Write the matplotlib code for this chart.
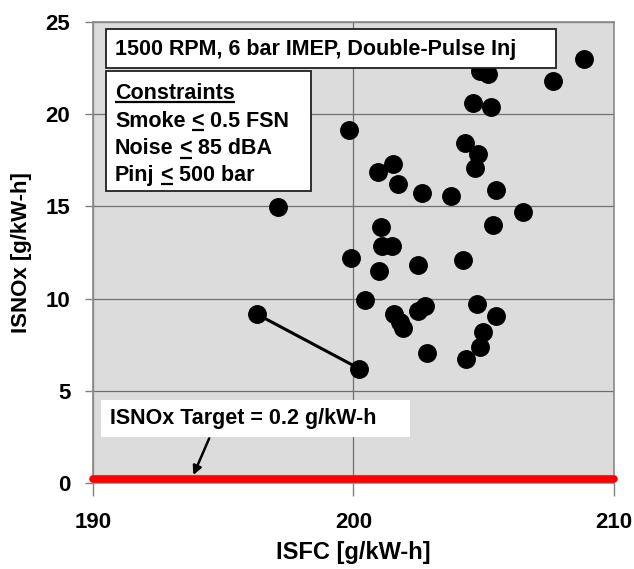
import matplotlib
matplotlib.use("Agg")
import matplotlib.pyplot as plt
from matplotlib.patches import Rectangle

plt.rcParams['font.family'] = ['Liberation Sans', 'DejaVu Sans']
plt.rcParams['font.weight'] = 'bold'

# ---- data ----
isfc = [208.86, 207.65, 204.86, 205.18, 204.60, 205.28, 199.83, 204.29, 204.77, 204.67,
        201.53, 200.96, 201.70, 202.65, 203.74, 205.46, 197.12, 206.52, 201.05, 205.37,
        201.11, 201.50, 199.90, 202.49, 204.20, 201.00, 200.45, 196.32, 201.57, 201.79,
        201.90, 202.49, 202.75, 204.76, 205.48, 204.97, 204.84, 204.32, 202.82, 200.23]
isnox = [23.01, 21.78, 22.32, 22.18, 20.59, 20.38, 19.17, 18.45, 17.82, 17.10,
         17.28, 16.88, 16.23, 15.75, 15.57, 15.89, 14.97, 14.72, 13.89, 14.00,
         12.83, 12.86, 12.18, 11.82, 12.11, 11.48, 9.93, 9.14, 9.14, 8.72,
         8.42, 9.31, 9.62, 9.71, 9.08, 8.18, 7.37, 6.74, 7.04, 6.20]
line_isfc = [196.32, 200.23]
line_isnox = [9.14, 6.20]
target_isfc = [190, 210]
target_isnox = [0.2, 0.2]
x_ticks = [190, 200, 210]
y_ticks = [0, 5, 10, 15, 20, 25]

fig = plt.figure(figsize=(6.34, 5.69), dpi=100)
W, H = 634, 569
ax_l, ax_r, ax_t, ax_b = 92.7, 614, 22, 483
ax = fig.add_axes([ax_l / W, 1 - ax_b / H, (ax_r - ax_l) / W, (ax_b - ax_t) / H])
ax.set_facecolor('#dcdcdc')
ax.set_xlim(190, 210)
ax.set_ylim(0, 25)
ax.set_xticks(x_ticks)
ax.set_yticks(y_ticks)
ax.tick_params(axis='both', direction='out', colors='#808080', labelcolor='black',
               labelsize=16, width=1.0)
ax.tick_params(axis='y', length=6, pad=10)
ax.tick_params(axis='x', length=9, pad=12)
for lab in ax.get_xticklabels() + ax.get_yticklabels():
    lab.set_fontweight('bold')
for s in ax.spines.values():
    s.set_color('#8a8a8a')
    s.set_linewidth(1.2)
ax.grid(True, color='#707070', linewidth=0.9)
ax.set_axisbelow(True)

ax.plot(target_isfc, target_isnox, color='#ff0000', linewidth=5.5,
        solid_capstyle='round', zorder=4, clip_on=False)
ax.plot(line_isfc, line_isnox, color='black', linewidth=2.2, zorder=3)
ax.scatter(isfc, isnox, s=185, color='black', zorder=5, linewidths=0)

ax.set_xlabel('ISFC [g/kW-h]', fontsize=17, fontweight='bold', labelpad=6)
ax.set_ylabel('ISNOx [g/kW-h]', fontsize=16, fontweight='bold', labelpad=10)

def fx(px):
    return (px - ax_l) / (ax_r - ax_l)

def fy(py):
    return (ax_b - py) / (ax_b - ax_t)

FS = 15.5

# title box
ax.add_patch(Rectangle((fx(106), fy(67.5)), fx(556) - fx(106), fy(29) - fy(67.5),
                       transform=ax.transAxes, facecolor='white', edgecolor='#202020',
                       linewidth=1.3, zorder=6))
ax.text(fx(115), fy(49), '1500 RPM, 6 bar IMEP, Double-Pulse Inj', transform=ax.transAxes,
        fontsize=FS, fontweight='bold', va='center', ha='left', zorder=7)

# constraints box
ax.add_patch(Rectangle((fx(106), fy(191)), fx(311) - fx(106), fy(71) - fy(191),
                       transform=ax.transAxes, facecolor='white', edgecolor='#202020',
                       linewidth=1.3, zorder=6))

fig.canvas.draw()
renderer = fig.canvas.get_renderer()

def width_px(s, size):
    t = ax.text(0, 0, s, fontsize=size, fontweight='bold', transform=ax.transAxes)
    w = t.get_window_extent(renderer).width
    t.remove()
    return w

space_w = width_px('x x', FS) - width_px('xx', FS)

def draw_pieces(x_px, base_py, pieces):
    # pieces: list of (text, underline)
    cur = x_px
    for s, ul in pieces:
        t = ax.text(fx(cur), fy(base_py), s, transform=ax.transAxes, fontsize=FS,
                    fontweight='bold', va='baseline', ha='left', zorder=7)
        w = t.get_window_extent(renderer).width
        if ul:
            uy = base_py + 3
            ax.plot([fx(cur), fx(cur + w)], [fy(uy), fy(uy)], transform=ax.transAxes,
                    color='black', linewidth=1.6, zorder=7, solid_capstyle='butt')
        cur = cur + w + space_w

draw_pieces(115, 99, [('Constraints', True)])
draw_pieces(115, 127, [('Smoke', False), ('<', True), ('0.5 FSN', False)])
draw_pieces(115, 154.5, [('Noise', False), ('<', True), ('85 dBA', False)])
draw_pieces(115, 181, [('Pinj', False), ('<', True), ('500 bar', False)])

# target annotation
ax.add_patch(Rectangle((fx(101), fy(436.5)), fx(410) - fx(101), fy(400) - fy(436.5),
                       transform=ax.transAxes, facecolor='white', edgecolor='none', zorder=6))
ax.text(fx(110), fy(418.5), 'ISNOx Target = 0.2 g/kW-h', transform=ax.transAxes,
        fontsize=15.5, fontweight='bold', va='center', ha='left', zorder=7)
ax.annotate('', xy=(193.86, 0.43), xytext=(194.47, 2.42),
            arrowprops=dict(arrowstyle='-|>', color='black', lw=1.8,
                            mutation_scale=13, shrinkA=0, shrinkB=0), zorder=7)

fig.savefig('out.png', dpi=100)
